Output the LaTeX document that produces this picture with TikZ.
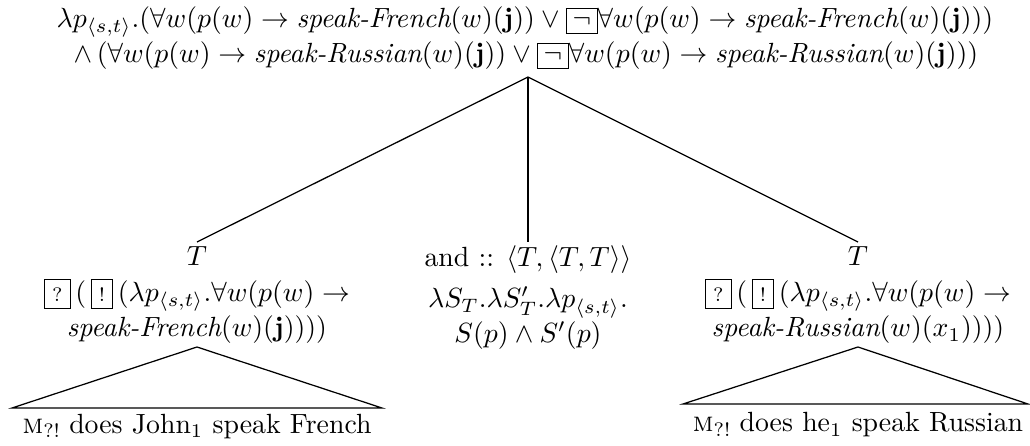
\documentclass[tikz,border=0pt]{standalone}
\usepackage{amsmath}
\newcommand{\negbx}{{\setlength{\fboxsep}{2pt}\fbox{$\neg$}}}
\newcommand{\qb}[1]{{\setlength{\fboxsep}{2.5pt}\fbox{\scriptsize\vphantom{!}#1}}}
\newcommand{\mq}{\textsc{m}\raisebox{-0.4ex}{\scriptsize ?!}}
\newcommand{\sF}{\textit{speak-French}}
\newcommand{\sR}{\textit{speak-Russian}}
\begin{document}
\begin{tikzpicture}[x=0.36pt,y=-0.36pt,
  txt/.style={inner sep=0pt, anchor=base},
  edge/.style={line width=0.45pt}]
\useasboundingbox (0,0) rectangle (1030,446);
% root
\node[txt] (r1) at (525,27) {$\lambda p_{\langle s,t\rangle}.(\forall w(p(w)\rightarrow \sF(w)(\mathbf{j}))\vee\negbx\forall w(p(w)\rightarrow\sF(w)(\mathbf{j})))$};
\node[txt] (r2) at (526,62) {$\wedge\,(\forall w(p(w)\rightarrow \sR(w)(\mathbf{j}))\vee\negbx\forall w(p(w)\rightarrow\sR(w)(\mathbf{j})))$};
\coordinate (top) at (528,77);
% left
\node[txt] (lT) at (197,265) {$T$};
\node[txt] (l2) at (197,301) {\qb{?}\,(\,\qb{!}\,$(\lambda p_{\langle s,t\rangle}.\forall w(p(w)\rightarrow$};
\node[txt] (l3) at (197,337) {$\sF(w)(\mathbf{j}))))$};
% middle
\node[txt] (mT) at (528,267) {and :: $\langle T,\langle T,T\rangle\rangle$};
\node[txt] (m2) at (528,308) {$\lambda S_T.\lambda S'_T.\lambda p_{\langle s,t\rangle}.$};
\node[txt] (m3) at (528,343) {$S(p)\wedge S'(p)$};
% right
\node[txt] (rT) at (858,265) {$T$};
\node[txt] (rr2) at (858,301) {\qb{?}\,(\,\qb{!}\,$(\lambda p_{\langle s,t\rangle}.\forall w(p(w)\rightarrow$};
\node[txt] (rr3) at (858,337) {$\sR(w)(x_1))))$};
% leaves
\node[txt] (ll) at (197,433) {\mq{} does John$_1$ speak French};
\node[txt] (rl) at (858,432) {\mq{} does he$_1$ speak Russian};
\coordinate (la) at (197,347);
\coordinate (lb1) at (12,408);
\coordinate (lb2) at (382,408);
\coordinate (ra) at (858,347);
\coordinate (rb1) at (683,404);
\coordinate (rb2) at (1028,404);
% edges
\draw[edge] (top) -- (lT.north |- 0,242);
\draw[edge] (top) -- (mT.north |- 0,242);
\draw[edge] (top) -- (rT.north |- 0,242);
\draw[edge] (la) -- (lb1) -- (lb2) -- cycle;
\draw[edge] (ra) -- (rb1) -- (rb2) -- cycle;
\end{tikzpicture}
\end{document}
